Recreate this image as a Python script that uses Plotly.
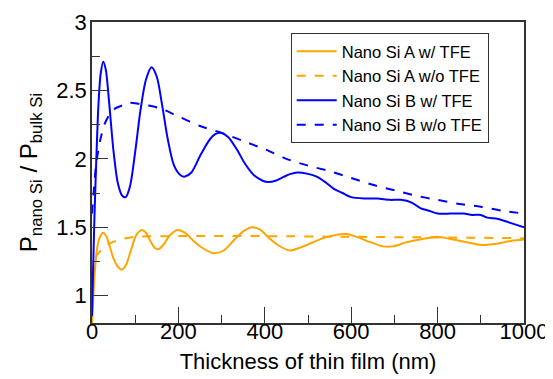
import plotly.graph_objects as go

# Nano Si A w/ TFE
a_tfe_x = [0, 5, 10, 15, 20, 25, 32, 40, 50, 60, 69, 78, 90, 102, 115, 125, 135, 145, 154, 165, 180, 198,
           215, 235, 255, 281, 305, 330, 350, 371, 390, 410, 430, 458, 481, 512, 535, 559, 590, 620, 645,
           674, 697, 728, 759, 798, 836, 867, 902, 937, 970, 1000]
a_tfe_y = [0.80, 1.10, 1.30, 1.40, 1.44, 1.46, 1.44, 1.37, 1.27, 1.21, 1.19, 1.22, 1.33, 1.44, 1.48, 1.46,
           1.40, 1.35, 1.34, 1.37, 1.44, 1.48, 1.46, 1.40, 1.35, 1.31, 1.33, 1.41, 1.47, 1.50, 1.48, 1.42,
           1.37, 1.33, 1.35, 1.39, 1.42, 1.44, 1.45, 1.42, 1.39, 1.36, 1.36, 1.39, 1.41, 1.43, 1.41, 1.39,
           1.37, 1.38, 1.40, 1.41]

# Nano Si A w/o TFE
a_no_x = [0, 5, 15, 26, 40, 65, 100, 200, 400, 600, 800, 1000]
a_no_y = [1.15, 1.26, 1.31, 1.35, 1.38, 1.41, 1.43, 1.435, 1.435, 1.43, 1.425, 1.42]

# Nano Si B w/ TFE
b_tfe_x = [0, 5, 10, 15, 20, 26, 32, 40, 50, 60, 70, 78, 88, 100, 112, 125, 138, 150, 162, 175, 190, 205,
           215, 230, 250, 270, 285, 298, 315, 335, 355, 375, 395, 408, 425, 445, 460, 475, 500, 520, 540,
           560, 580, 600, 630, 660, 690, 715, 740, 760, 780, 800, 830, 860, 880, 900, 915, 940, 970, 1000]
b_tfe_y = [0.85, 1.50, 2.00, 2.40, 2.62, 2.71, 2.65, 2.40, 2.05, 1.82, 1.73, 1.72, 1.80, 2.05, 2.35, 2.58,
           2.67, 2.60, 2.40, 2.15, 1.95, 1.88, 1.87, 1.90, 2.02, 2.13, 2.18, 2.19, 2.16, 2.07, 1.96, 1.88,
           1.84, 1.83, 1.84, 1.87, 1.89, 1.90, 1.89, 1.87, 1.83, 1.78, 1.75, 1.72, 1.71, 1.71, 1.70, 1.70,
           1.68, 1.64, 1.62, 1.60, 1.60, 1.60, 1.59, 1.59, 1.57, 1.56, 1.53, 1.50]

# Nano Si B w/o TFE
b_no_x = [0, 5, 10, 20, 30, 42, 55, 70, 88, 110, 130, 157, 200, 250, 300, 350, 400, 450, 500, 550, 600,
          650, 700, 750, 800, 850, 900, 950, 1000]
b_no_y = [1.60, 1.80, 1.97, 2.15, 2.26, 2.33, 2.37, 2.39, 2.41, 2.40, 2.39, 2.37, 2.31, 2.24, 2.19, 2.13,
          2.07, 2.00, 1.95, 1.91, 1.86, 1.81, 1.77, 1.73, 1.70, 1.67, 1.65, 1.62, 1.60]

ORANGE = "#FFA500"
BLUE = "#0000FF"
X_RANGE = [0, 1000]
Y_RANGE = [0.8, 3]

fig = go.Figure()
series = [
    ("Nano Si A w/ TFE", a_tfe_x, a_tfe_y, ORANGE, "solid"),
    ("Nano Si A w/o TFE", a_no_x, a_no_y, ORANGE, "dash"),
    ("Nano Si B w/ TFE", b_tfe_x, b_tfe_y, BLUE, "solid"),
    ("Nano Si B w/o TFE", b_no_x, b_no_y, BLUE, "dash"),
]
for name, xs, ys, col, dash in series:
    fig.add_trace(go.Scatter(x=xs, y=ys, mode="lines", name=name,
                             line=dict(color=col, width=2, dash=dash, shape="spline", smoothing=0.8)))

AX = "#333333"
tick_common = dict(ticks="inside", ticklen=16, tickwidth=1.2, tickcolor=AX,
                   showgrid=False, zeroline=False, automargin=False)

fig.update_layout(
    width=553, height=379,
    margin=dict(l=84, r=37, t=14, b=64),
    paper_bgcolor="white", plot_bgcolor="white",
    font=dict(family="Liberation Sans, Arial", color="black"),
    xaxis=dict(range=X_RANGE, dtick=200, tick0=0, showline=True, linecolor=AX, linewidth=1.5, mirror=True,
               minor=dict(dtick=100, ticks="inside", ticklen=8, tickcolor=AX, tickwidth=1.2),
               tickfont=dict(size=22, color="black"), ticklabelstandoff=-12,
               title=dict(text="Thickness of thin film (nm)", font=dict(size=22), standoff=10),
               **tick_common),
    yaxis=dict(range=Y_RANGE, dtick=0.5, tick0=1, showline=True, linecolor=AX, linewidth=1.5, mirror=True,
               minor=dict(dtick=0.25, ticks="inside", ticklen=8, tickcolor=AX, tickwidth=1.2),
               tickfont=dict(size=22, color="black"), ticklabelstandoff=-1,
               title=dict(text="P<sub>nano Si</sub> / P<sub>bulk Si</sub>", font=dict(size=24), standoff=12),
               **tick_common),
    xaxis2=dict(range=X_RANGE, dtick=200, tick0=0, overlaying="x", side="top", anchor="y",
                showticklabels=False, showline=False,
                minor=dict(dtick=100, ticks="inside", ticklen=8, tickcolor=AX, tickwidth=1.2),
                **tick_common),
    yaxis2=dict(range=Y_RANGE, dtick=0.5, tick0=1, overlaying="y", side="right", anchor="x",
                showticklabels=False, showline=False,
                minor=dict(dtick=0.25, ticks="inside", ticklen=8, tickcolor=AX, tickwidth=1.2),
                **tick_common),
    legend=dict(x=0.46, y=0.963, xanchor="left", yanchor="top",
                bgcolor="white", bordercolor=AX, borderwidth=1,
                font=dict(family="Liberation Sans, Arial", size=16.5, color="black"),
                tracegroupgap=0, itemwidth=40),
    showlegend=True,
)

fig.write_html("out.html")
